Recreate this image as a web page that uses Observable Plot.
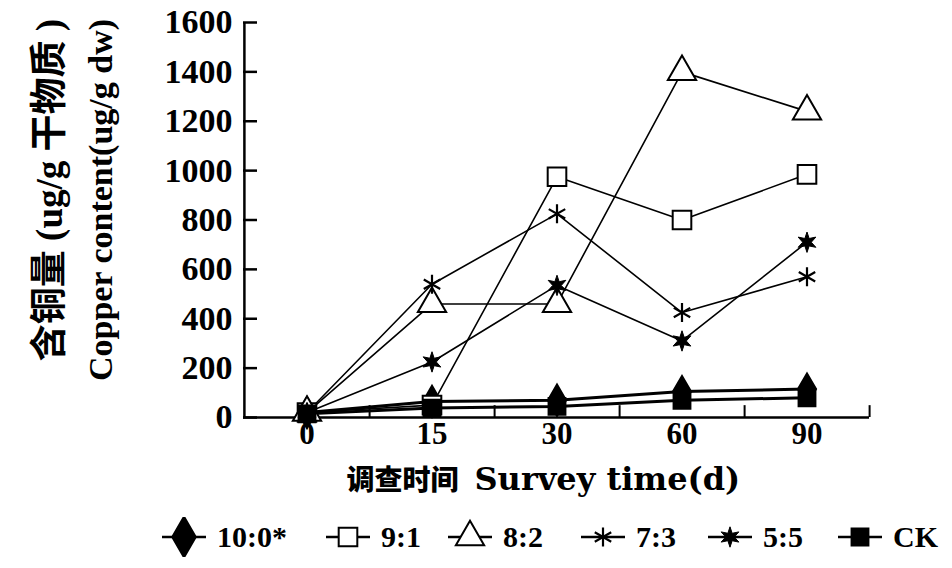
<!DOCTYPE html>
<html><head><meta charset="utf-8">
<script src="https://cdn.jsdelivr.net/npm/d3@7"></script>
<script src="https://cdn.jsdelivr.net/npm/@observablehq/plot@0.6"></script>
<style>
body{margin:0;background:#fff;}
#chart{width:952px;height:568px;position:relative;overflow:hidden;background:#fff;}
#legend{position:relative;height:63px;font-family:"Liberation Serif","Noto Sans CJK SC",serif;font-weight:bold;font-size:30px;color:#000;}
.item{position:absolute;top:0;height:63px;display:flex;align-items:center;}
.item span{margin-left:10px;line-height:1;}
</style></head><body><div id="chart"></div>
<script>
// ---- data ----
const days = ["0", "15", "30", "60", "90"];
const seriesNames = ["10:0*", "9:1", "8:2", "7:3", "5:5", "CK"];
const v100 = [20, 65, 70, 105, 115];
const v91 = [20, 50, 975, 800, 985];
const v82 = [20, 460, 460, 1400, 1240];
const v73 = [20, 540, 825, 425, 570];
const v55 = [20, 225, 535, 310, 710];
const vCK = [15, 38, 45, 70, 80];
const yTicks = [0, 200, 400, 600, 800, 1000, 1200, 1400, 1600];
const yTitleCN = "含铜量 (ug/g 干物质 )";
const yTitleEN = "Copper content(ug/g dw)";
const xTitleCN = "调查时间";
const xTitleEN = "Survey time(d)";

// ---- styles ----
const star6 = {
  draw(context, size) {
    const R = Math.sqrt(size / Math.PI) * 1.2, r = R * 0.42;
    for (let k = 0; k < 12; ++k) {
      const a = Math.PI * k / 6 - Math.PI / 2, rr = k % 2 ? r : R;
      const x = rr * Math.cos(a), y = rr * Math.sin(a);
      if (k === 0) context.moveTo(x, y); else context.lineTo(x, y);
    }
    context.closePath();
  }
};
const symMap = {diamond: d3.symbolDiamond, square: d3.symbolSquare, triangle: d3.symbolTriangle, asterisk: d3.symbolAsterisk, star6: star6};
const symbols = ["diamond", "square", "triangle", "asterisk", "star6", "square"];
const fills = ["black", "white", "white", "none", "black", "black"];
const radii = [9.5, 10.5, 10.5, 9, 8.5, 9.5];
const dotW = [2, 2, 2, 2.2, 1, 2];
const lineW = [3, 1.6, 1.6, 1.6, 1.6, 3];
const legendLeft = [161, 325, 447, 580, 707, 837];

const seriesValues = [v100, v91, v82, v73, v55, vCK];
const rows = [];
seriesNames.forEach((s, i) => days.forEach((d, j) => rows.push({series: s, day: d, value: seriesValues[i][j]})));

const W = 952, H = 505, mL = 243, mR = 83, mT = 22, mB = 88;
const bw = (W - mL - mR) / days.length;
const innerW = W - mL - mR;

const marks = [
  Plot.ruleY([0], {strokeWidth: 2.5}),
  Plot.ruleX([days[0]], {dx: -bw / 2, strokeWidth: 2.5}),
  Plot.tickY(yTicks, {y: d => d, insetRight: innerW - 14, strokeWidth: 2.5}),
  Plot.ruleX(days, {x: d => d, y1: 0, y2: 48, dx: bw / 2, strokeWidth: 2}),
  Plot.axisY(yTicks, {tickSize: 0, tickPadding: 11, fontSize: 34, label: null, tickFormat: d => String(d)}),
  Plot.axisX({tickSize: 0, tickPadding: 4, fontSize: 31, label: null}),
];
seriesNames.forEach((s, i) => {
  marks.push(Plot.line(rows.filter(r => r.series === s), {x: "day", y: "value", stroke: "black", strokeWidth: lineW[i]}));
});
seriesNames.forEach((s, i) => {
  marks.push(Plot.dot(rows.filter(r => r.series === s), {x: "day", y: "value", symbol: symMap[symbols[i]], r: radii[i], fill: fills[i], stroke: "black", strokeWidth: dotW[i]}));
});
marks.push(Plot.text([yTitleCN], {text: d => d, frameAnchor: "left", rotate: -90, dx: -193, dy: -30, fontSize: 37, textAnchor: "middle"}));
marks.push(Plot.text([yTitleEN], {text: d => d, frameAnchor: "left", rotate: -90, dx: -142, dy: -20, fontSize: 34, textAnchor: "middle"}));
marks.push(Plot.text([xTitleCN], {text: d => d, frameAnchor: "bottom", dx: -98, dy: 72, fontSize: 28, fontFamily: "Noto Sans CJK SC", fontWeight: 900, textAnchor: "end"}));
marks.push(Plot.text([xTitleEN], {text: d => d, frameAnchor: "bottom", dx: -82, dy: 72, fontSize: 32, fontFamily: "DejaVu Serif", textAnchor: "start"}));

const plot = Plot.plot({
  width: W, height: H,
  marginLeft: mL, marginRight: mR, marginTop: mT, marginBottom: mB,
  style: {fontFamily: "Liberation Serif, Noto Sans CJK SC, serif", fontWeight: "bold", color: "black", background: "white", overflow: "visible"},
  x: {type: "band", domain: days, padding: 0, axis: null},
  y: {domain: [0, 1600], axis: null},
  marks
});
document.getElementById("chart").appendChild(plot);

// ---- legend ----
const legend = d3.select("#chart").append("div").attr("id", "legend");
seriesNames.forEach((s, i) => {
  const item = legend.append("div").attr("class", "item").style("left", legendLeft[i] + "px");
  const svg = item.append("svg").attr("width", 46).attr("height", 40);
  svg.append("line").attr("x1", 1).attr("x2", 45).attr("y1", 20).attr("y2", 20).attr("stroke", "black").attr("stroke-width", 2.5);
  const r = radii[i] * (i === 0 ? 1.3 : 1);
  svg.append("path").attr("transform", "translate(23,20)")
    .attr("d", d3.symbol(symMap[symbols[i]], Math.PI * r * r)())
    .attr("fill", fills[i]).attr("stroke", "black").attr("stroke-width", dotW[i]);
  item.append("span").text(s);
});
</script></body></html>
